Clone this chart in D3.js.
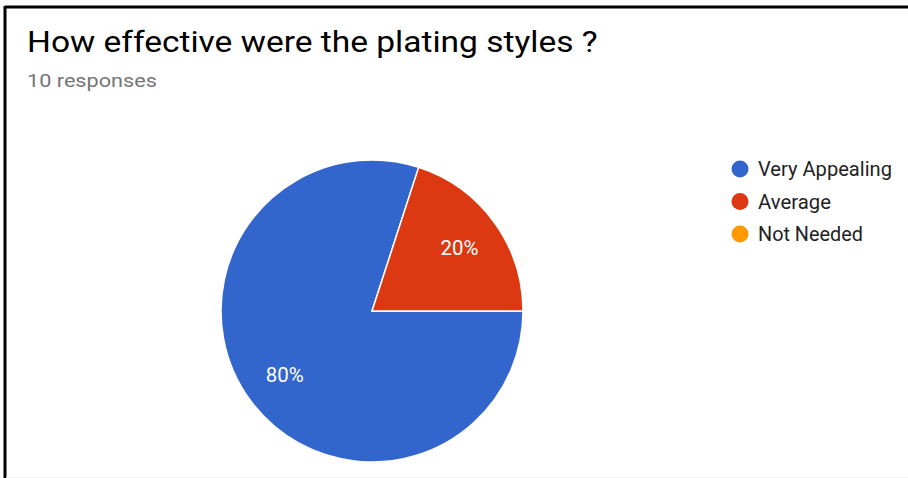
<!DOCTYPE html>
<html>
<head>
<meta charset="utf-8">
<script src="https://cdn.jsdelivr.net/npm/d3@7"></script>
<style>
  body { margin: 0; background: #fff; }
  text { font-family: Roboto, "Noto Sans", sans-serif; }
</style>
</head>
<body>
<svg id="chart" width="908" height="478"></svg>
<script>
// data
const categories = ["Very Appealing", "Average", "Not Needed"];
const responses = [8, 2, 0];
const colours = ["#3366cc", "#dc3912", "#ff9900"];
// rendered widths of legend labels in the reference (the screenshot is a bit stretched)
const legendWidths = [134, 73, 105];

const svg = d3.select("#chart");

// stretch a text horizontally so it covers `width` px, anchored at its own x
function stretch(sel, width, anchorX) {
  sel.each(function(d, i) {
    const w = typeof width === "function" ? width(d, i) : width;
    const natural = this.getComputedTextLength();
    const k = w / natural;
    const ax = anchorX !== undefined ? anchorX : +this.getAttribute("x");
    d3.select(this).attr("transform",
      (this.getAttribute("transform") || "") + ` translate(${ax},0) scale(${k},1) translate(${-ax},0)`);
  });
}

// frame (screenshot border)
svg.append("line").attr("x1", 5).attr("x2", 908).attr("y1", 7).attr("y2", 7)
    .attr("stroke", "#000").attr("stroke-width", 3);
svg.append("line").attr("x1", 5).attr("x2", 5).attr("y1", 6).attr("y2", 478)
    .attr("stroke", "#000").attr("stroke-width", 3);
svg.append("line").attr("x1", 6).attr("x2", 908).attr("y1", 477.5).attr("y2", 477.5)
    .attr("stroke", "#eeeeee").attr("stroke-width", 1);

svg.append("text").attr("x", 27).attr("y", 52)
    .attr("font-size", 29.5).attr("fill", "#000")
    .text("How effective were the plating styles ?")
    .call(stretch, 571);

svg.append("text").attr("x", 27).attr("y", 87)
    .attr("font-size", 19).attr("fill", "#757575")
    .text(`${d3.sum(responses)} responses`)
    .call(stretch, 130);

// pie
const cx = 372, cy = 311, radius = 151;
const total = d3.sum(responses);

const pie = d3.pie().sort(null).value(d => d)
    .startAngle(Math.PI / 2).endAngle(Math.PI / 2 + 2 * Math.PI);
const arcs = pie(responses);

const arc = d3.arc().innerRadius(0).outerRadius(radius);
const labelArc = d3.arc().innerRadius(108).outerRadius(108);

const g = svg.append("g").attr("transform", `translate(${cx},${cy})`);

g.selectAll("path.slice")
    .data(arcs.filter(d => d.value > 0))
    .join("path")
    .attr("class", "slice")
    .attr("d", arc)
    .attr("fill", d => colours[d.index])
    .attr("stroke", "#fff")
    .attr("stroke-width", 1.5);

g.selectAll("text.pct")
    .data(arcs.filter(d => d.value > 0))
    .join("text")
    .attr("class", "pct")
    .attr("transform", d => `translate(${labelArc.centroid(d)})`)
    .attr("text-anchor", "middle")
    .attr("dy", "0.38em")
    .attr("font-size", 20)
    .attr("fill", "#fff")
    .text(d => `${Math.round(d.value / total * 100)}%`)
    .call(stretch, 38, 0);

// legend
const legendY = d3.scalePoint().domain(categories).range([169, 234]);

const legend = svg.append("g").selectAll("g")
    .data(categories)
    .join("g")
    .attr("transform", d => `translate(740,${legendY(d)})`);

legend.append("circle").attr("r", 8.5)
    .attr("fill", (d, i) => colours[i]);

legend.append("text")
    .attr("x", 18).attr("dy", "0.36em")
    .attr("font-size", 19.5).attr("fill", "#222")
    .text(d => d)
    .call(stretch, (d, i) => legendWidths[i]);
</script>
</body>
</html>
